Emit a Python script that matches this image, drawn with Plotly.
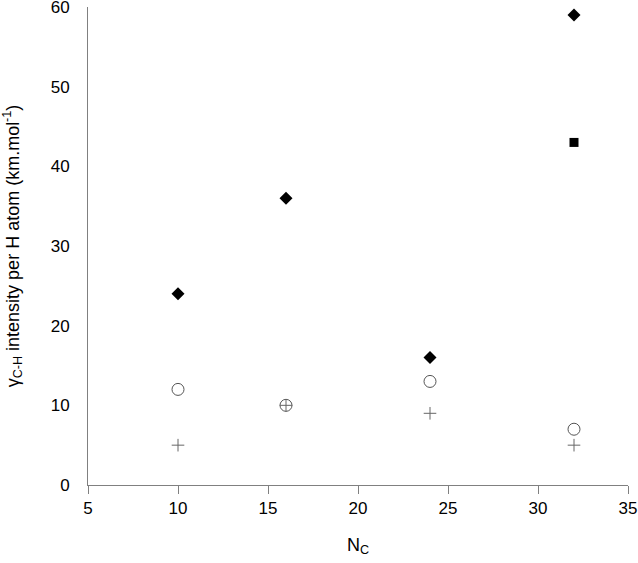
import plotly.graph_objects as go

nc = [10, 16, 24, 32]
diamond_vals = [24, 36, 16, 59]
square_x = [32]
square_vals = [43]
circle_vals = [12, 10, 13, 7]
cross_vals = [5, 10, 9, 5]

x_ticks = [5, 10, 15, 20, 25, 30, 35]
y_ticks = [0, 10, 20, 30, 40, 50, 60]

fig = go.Figure()
fig.add_trace(go.Scatter(x=nc, y=diamond_vals, mode="markers",
                         marker=dict(symbol="diamond", size=10, color="black",
                                     line=dict(width=0))))
fig.add_trace(go.Scatter(x=square_x, y=square_vals, mode="markers",
                         marker=dict(symbol="square", size=9, color="black",
                                     line=dict(width=0))))
fig.add_trace(go.Scatter(x=nc, y=circle_vals, mode="markers",
                         marker=dict(symbol="circle-open", size=12, color="#555",
                                     line=dict(width=1))))
fig.add_trace(go.Scatter(x=nc, y=cross_vals, mode="markers",
                         marker=dict(symbol="cross-thin-open", size=9, color="#666",
                                     line=dict(width=1, color="#666"))))

FAM = "Liberation Sans, Arial, sans-serif"
tickfont = dict(family=FAM, size=17, color="black")
titlefont = dict(family=FAM, size=18, color="black")
fig.update_layout(
    template="none",
    width=638, height=563,
    margin=dict(l=88, r=10, t=7, b=78),
    plot_bgcolor="white", paper_bgcolor="white",
    showlegend=False,
    font=titlefont,
    xaxis=dict(range=[5, 35], tickvals=x_ticks, showgrid=False, zeroline=False,
               automargin=False, ticklabeloverflow="allow",
               showline=True, linecolor="#808080", linewidth=1,
               ticks="outside", ticklen=8, tickcolor="#808080", tickwidth=1,
               title=dict(text="N<sub>C</sub>", standoff=20,
                          font=dict(family=FAM, size=18, color="black")),
               tickfont=tickfont),
    yaxis=dict(range=[0, 60], tickvals=y_ticks, showgrid=False, zeroline=False,
               automargin=False, ticklabeloverflow="allow",
               showline=True, linecolor="#808080", linewidth=1,
               ticks="", ticklabelstandoff=14,
               title=dict(text="γ<sub>C-H</sub> intensity per H atom (km.mol<sup>-1</sup>)",
                          standoff=28, font=titlefont),
               tickfont=tickfont),
)
fig.write_html("out.html", config={"displayModeBar": False},
               post_script="document.body.style.margin='0';document.body.style.overflow='hidden';")
